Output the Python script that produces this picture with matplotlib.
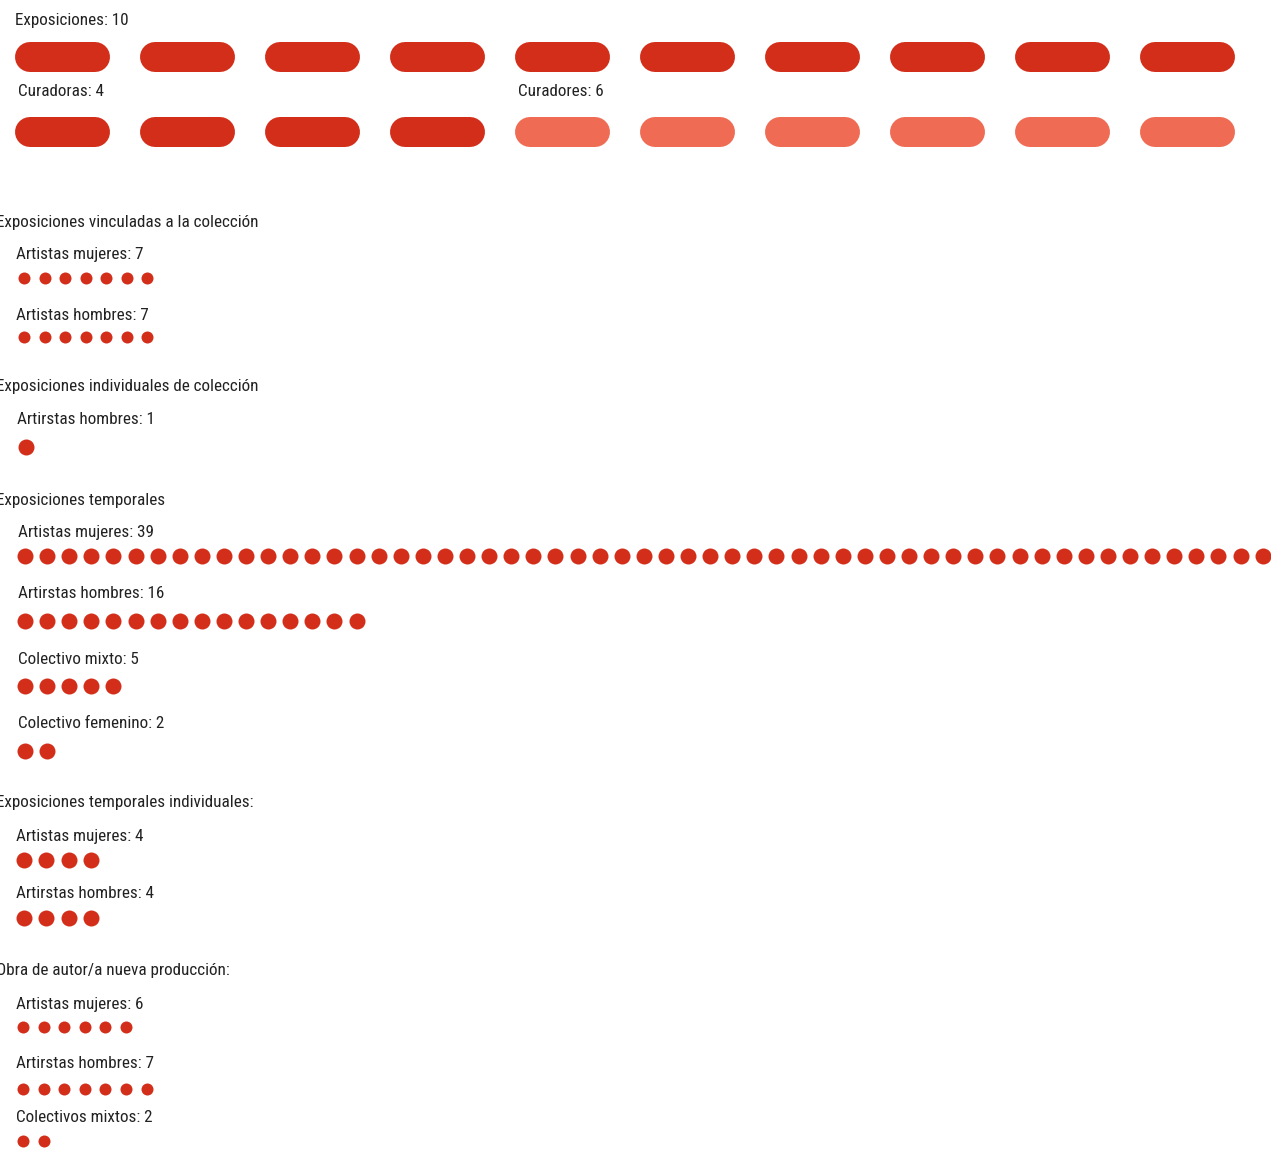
import matplotlib
matplotlib.use("Agg")
import matplotlib.pyplot as plt
from matplotlib import font_manager

# pick a condensed family if there is one
installed = set(f.name for f in font_manager.fontManager.ttflist)
for fam in ["Roboto Condensed", "Liberation Sans Narrow", "Roboto"]:
    if fam in installed:
        FONT = fam
        break
else:
    FONT = "DejaVu Sans"
plt.rcParams['font.family'] = [FONT, 'DejaVu Sans']

DARK = "#D32E1A"
LIGHT = "#EF6B53"
INK = "#222222"

# top block: exhibitions and curators
expos_total = 10
curadoras = 4
curadores = 6

# dot sections
section_titles = [
    "Exposiciones vinculadas a la colección",
    "Exposiciones individuales de colección",
    "Exposiciones temporales",
    "Exposiciones temporales individuales:",
    "Obra de autor/a nueva producción:",
]
row_labels = [
    "Artistas mujeres", "Artistas hombres",
    "Artirstas hombres",
    "Artistas mujeres", "Artirstas hombres", "Colectivo mixto", "Colectivo femenino",
    "Artistas mujeres", "Artirstas hombres",
    "Artistas mujeres", "Artirstas hombres", "Colectivos mixtos",
]
row_values = [7, 7, 1, 39, 16, 5, 2, 4, 4, 6, 7, 2]
# the 39 row in the original overflows the frame
row_dots = [7, 7, 1, 58, 16, 5, 2, 4, 4, 6, 7, 2]

# layout (pixels)
section_y = [223, 387, 500, 803, 970]
label_y = [255, 315, 419, 532, 594, 659, 724, 836, 894, 1005, 1064, 1117]
label_x = [16, 16, 17, 18, 18, 18, 18, 16, 16, 16, 16, 16]
dot_y = [278, 337, 447, 556, 621, 686, 751, 860, 918, 1027, 1089, 1141]
dot_x0 = [24, 24, 26, 25, 25, 25, 25, 24, 24, 23, 23, 23]
dot_step = [20.5, 20.5, 22.1, 22.1, 22.1, 22.1, 22.1, 22.3, 22.3, 20.6, 20.6, 20.6]
dot_diam = [12, 12, 16, 16, 16, 16, 16, 16, 16, 12, 12, 12]

W, H = 1271, 1149
fig = plt.figure(figsize=(W / 100, H / 100), dpi=100)
ax = fig.add_axes([0, 0, 1, 1])
ax.set_xlim(0, W)
ax.set_ylim(H, 0)
ax.axis("off")

FS = 12.3

def pill(x, y, color):
    # 95px long, 30px tall capsule
    ax.plot([x + 15, x + 80], [y, y], color=color, lw=30 * 0.72,
            solid_capstyle="round")

ax.text(15, 20, f"Exposiciones: {expos_total}", fontsize=FS, va="center", color=INK)
for i in range(expos_total):
    pill(15 + i * 125, 57, DARK)

ax.text(18, 92, f"Curadoras: {curadoras}", fontsize=FS, va="center", color=INK)
ax.text(518, 91, f"Curadores: {curadores}", fontsize=FS, va="center", color=INK)
for i in range(curadoras + curadores):
    pill(15 + i * 125, 132, DARK if i < curadoras else LIGHT)

for title, y in zip(section_titles, section_y):
    ax.text(-4, y, title, fontsize=FS, va="center", color=INK)

for i in range(len(row_labels)):
    ax.text(label_x[i], label_y[i], f"{row_labels[i]}: {row_values[i]}",
            fontsize=FS, va="center", color=INK)
    xs = [dot_x0[i] + k * dot_step[i] for k in range(row_dots[i])]
    size = (dot_diam[i] * 0.72) ** 2
    ax.scatter(xs, [dot_y[i]] * len(xs), s=size, color=DARK, linewidths=0)

fig.savefig("out.png", dpi=100)
